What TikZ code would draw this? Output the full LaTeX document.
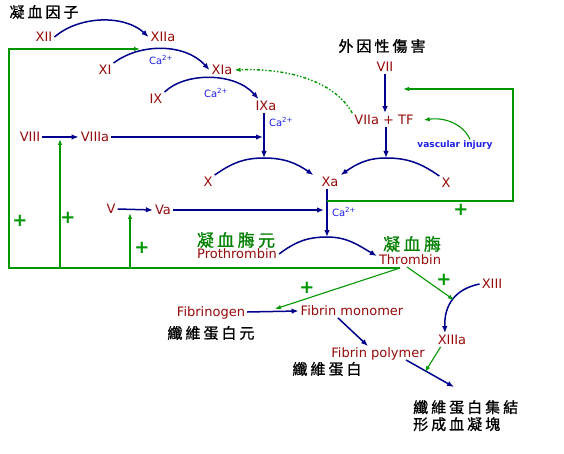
\documentclass[tikz,border=0pt]{standalone}
\usepackage{fontspec}
\usetikzlibrary{arrows.meta}
\setmainfont{DejaVu Sans}
\newfontfamily\cjk[LetterSpace=20,FakeBold=1]{Noto Sans CJK TC}
\definecolor{factorred}{RGB}{150,10,10}
\definecolor{flowblue}{RGB}{0,0,140}
\definecolor{loopgreen}{RGB}{0,150,0}
\definecolor{ionblue}{RGB}{30,30,230}
\newcommand{\calcium}{Ca\textsuperscript{2+}}

\begin{document}
\begin{tikzpicture}
    [
      x=1pt, y=-1pt,
      factor/.style=
      {
        text=factorred,
        font=\fontsize{13}{13}\selectfont,
        text height=9.5pt,
        text depth=0pt,
        inner sep=2pt
      },
      ion/.style=
      {
        text=ionblue,
        font=\fontsize{10}{10}\selectfont,
        inner sep=1pt
      },
      hanzi/.style=
      {
        font=\cjk\fontsize{15}{17}\selectfont,
        inner sep=0pt
      },
      greenhanzi/.style=
      {
        text=loopgreen!85!black,
        font=\cjk\fontsize{17}{17}\selectfont,
        inner sep=0pt
      },
      plusmark/.style=
      {
        text=loopgreen,
        font=\bfseries\fontsize{18}{18}\selectfont,
        text height=12.9pt,
        text depth=0pt,
        inner sep=0pt
      },
      flow/.style=
      {
        draw=flowblue,
        line width=1.5pt,
        -{Latex[length=7pt,width=5.5pt]}
      },
      feedback/.style=
      {
        draw=loopgreen,
        line width=1.1pt,
        -{Latex[length=6pt,width=4.5pt]}
      }
    ]
    \useasboundingbox (0,0) rectangle (564,454);

    \node[hanzi] (ClotFactors) at (44,12) {凝血因子};
    \node[hanzi] (OuterInjury) at (382,46) {外因性傷害};

    \node[factor] (XII) at (44,37) {XII};
    \node[factor] (XIIa) at (163,37) {XIIa};
    \node[factor] (XI) at (105,70) {XI};
    \node[factor] (XIa) at (222,70) {XIa};
    \node[factor] (IX) at (156,99) {IX};
    \node[factor] (IXa) at (266,106) {IXa};
    \node[factor] (VIII) at (30,137) {VIII};
    \node[factor] (VIIIa) at (95,137) {VIIIa};
    \node[factor] (VII) at (385,67) {VII};
    \node[factor] (VIIaTF) at (384,120) {VIIa + TF};
    \node[ion, font=\bfseries\fontsize{9}{9}\selectfont] (Injury) at (455,145) {vascular injury};
    \node[factor] (XLeft) at (208,182) {X};
    \node[factor] (Xa) at (330,182) {Xa};
    \node[factor] (XRight) at (446,183) {X};
    \node[factor] (V) at (111,209) {V};
    \node[factor] (Va) at (163,210) {Va};

    \node[ion] (CaA) at (161,60) {\calcium};
    \node[ion] (CaB) at (216,93) {\calcium};
    \node[ion] (CaC) at (281,122) {\calcium};
    \node[ion] (CaD) at (344,212) {\calcium};

    \node[greenhanzi] (ProthrombinHanzi) at (236,240) {凝血脢元};
    \node[factor] (Prothrombin) at (237,254) {Prothrombin};
    \node[greenhanzi] (ThrombinHanzi) at (412,244) {凝血脢};
    \node[factor] (Thrombin) at (410,260) {Thrombin};
    \node[factor] (Fibrinogen) at (211,312) {Fibrinogen};
    \node[hanzi] (FibrinogenHanzi) at (211,333) {纖維蛋白元};
    \node[factor] (Monomer) at (352,311) {Fibrin monomer};
    \node[factor] (Polymer) at (378,353) {Fibrin polymer};
    \node[hanzi] (FibrinHanzi) at (327,369) {纖維蛋白};
    \node[factor] (XIII) at (492,284) {XIII};
    \node[factor] (XIIIa) at (452,340) {XIIIa};
    \node[hanzi, align=left, anchor=north west] (Clot) at (413,400) {纖維蛋白集結\\形成血凝塊};

    \node[plusmark] (PlusA) at (20,220) {+};
    \node[plusmark] (PlusB) at (68,217) {+};
    \node[plusmark] (PlusC) at (142,247) {+};
    \node[plusmark] (PlusD) at (461,209) {+};
    \node[plusmark] (PlusE) at (307,287) {+};
    \node[plusmark] (PlusF) at (444,279) {+};

    \coordinate (LeftArcTop) at (264,158);
    \coordinate (RightArcTop) at (386,158);
    \coordinate (ProArcTop) at (327,237);
    \coordinate (FeedStart) at (400,268);
    \coordinate (XIHit) at (140,49);
    \coordinate (VIIIHit) at (60,139);
    \coordinate (VHit) at (130,213);
    \coordinate (XaTap) at (327,201);
    \coordinate (VIIHit) at (403,89);
    \coordinate (FibrinogenHit) at (275,309);
    \coordinate (XIIIHit) at (454,300);
    \coordinate (ClotHit) at (425,372);
    \coordinate (ClotEnd) at (454,387);

    % intrinsic
    \draw[flow] (XII.east) .. controls (80,15) and (125,15) .. (XIIa.west);
    \draw[flow] (XI.north east) .. controls (140,43) and (185,43) .. (XIa.west);
    \draw[flow] (IX.north east) .. controls (185,72) and (235,72) .. ([xshift=5pt]IXa.north west);
    \draw[flow] (IXa.south -| LeftArcTop) -- (LeftArcTop);
    \draw[flow] (VIII.east) -- (VIIIa.west);
    \draw[flow, shorten >=1pt] (VIIIa.east) -- (VIIIa.east -| LeftArcTop);
    \draw[flow] (XLeft.north east) to[out=35,in=180] (LeftArcTop)
      to[out=0,in=145] ([xshift=-6pt]Xa.north west);

    % extrinsic
    \draw[flow] (VII.south) -- (VII.south |- VIIaTF.north);
    \draw[flow] (VIIaTF.south -| RightArcTop) -- (RightArcTop);
    \draw[flow] (XRight.north west) to[out=145,in=0] (RightArcTop)
      to[out=180,in=35] (Xa.north east);

    % common
    \draw[flow] (V.east) -- (Va.west);
    \draw[flow, shorten >=3pt] (Va.east) -- (Va.east -| ProArcTop);
    \draw[flow] (Xa.south -| ProArcTop) -- (ProArcTop);
    \draw[flow] (Prothrombin.east) to[out=37,in=180] (ProArcTop)
      to[out=0,in=150] ([yshift=4pt]Thrombin.west);
    \draw[flow] (Fibrinogen.east) -- (Monomer.west);
    \draw[flow] ([xshift=-14pt]Monomer.south) -- ([xshift=-10pt]Polymer.north);
    \draw[flow] ([xshift=28pt]Polymer.south) -- (ClotEnd);
    \draw[flow] (XIII.west) .. controls (455,289) and (444,305) .. ([xshift=-7pt]XIIIa.north);

    % feedback loops
    \draw[feedback] (FeedStart) -- (9,268) -- (9,49) -- (XIHit);
    \draw[feedback] (VIIIHit |- FeedStart) -- (VIIIHit);
    \draw[feedback] (VHit |- FeedStart) -- (VHit);
    \draw[feedback] (FeedStart) -- (FibrinogenHit);
    \draw[feedback] ([xshift=-3pt]Thrombin.south) -- (XIIIHit);
    \draw[feedback] ([xshift=5pt]XIIIa.south west) -- (ClotHit);
    \draw[feedback] (XaTap) -- (513,201) -- (513,89) -- (VIIHit);
    \draw[feedback] ([xshift=15pt]Injury.north) .. controls (463,124) and (445,117) .. ([xshift=8pt]VIIaTF.east);
    \draw[feedback, line width=1.4pt, dash dot dot] (VIIaTF.north west) .. controls (335,82) and (290,68) .. (XIa.east);
  \end{tikzpicture}
\end{document}
